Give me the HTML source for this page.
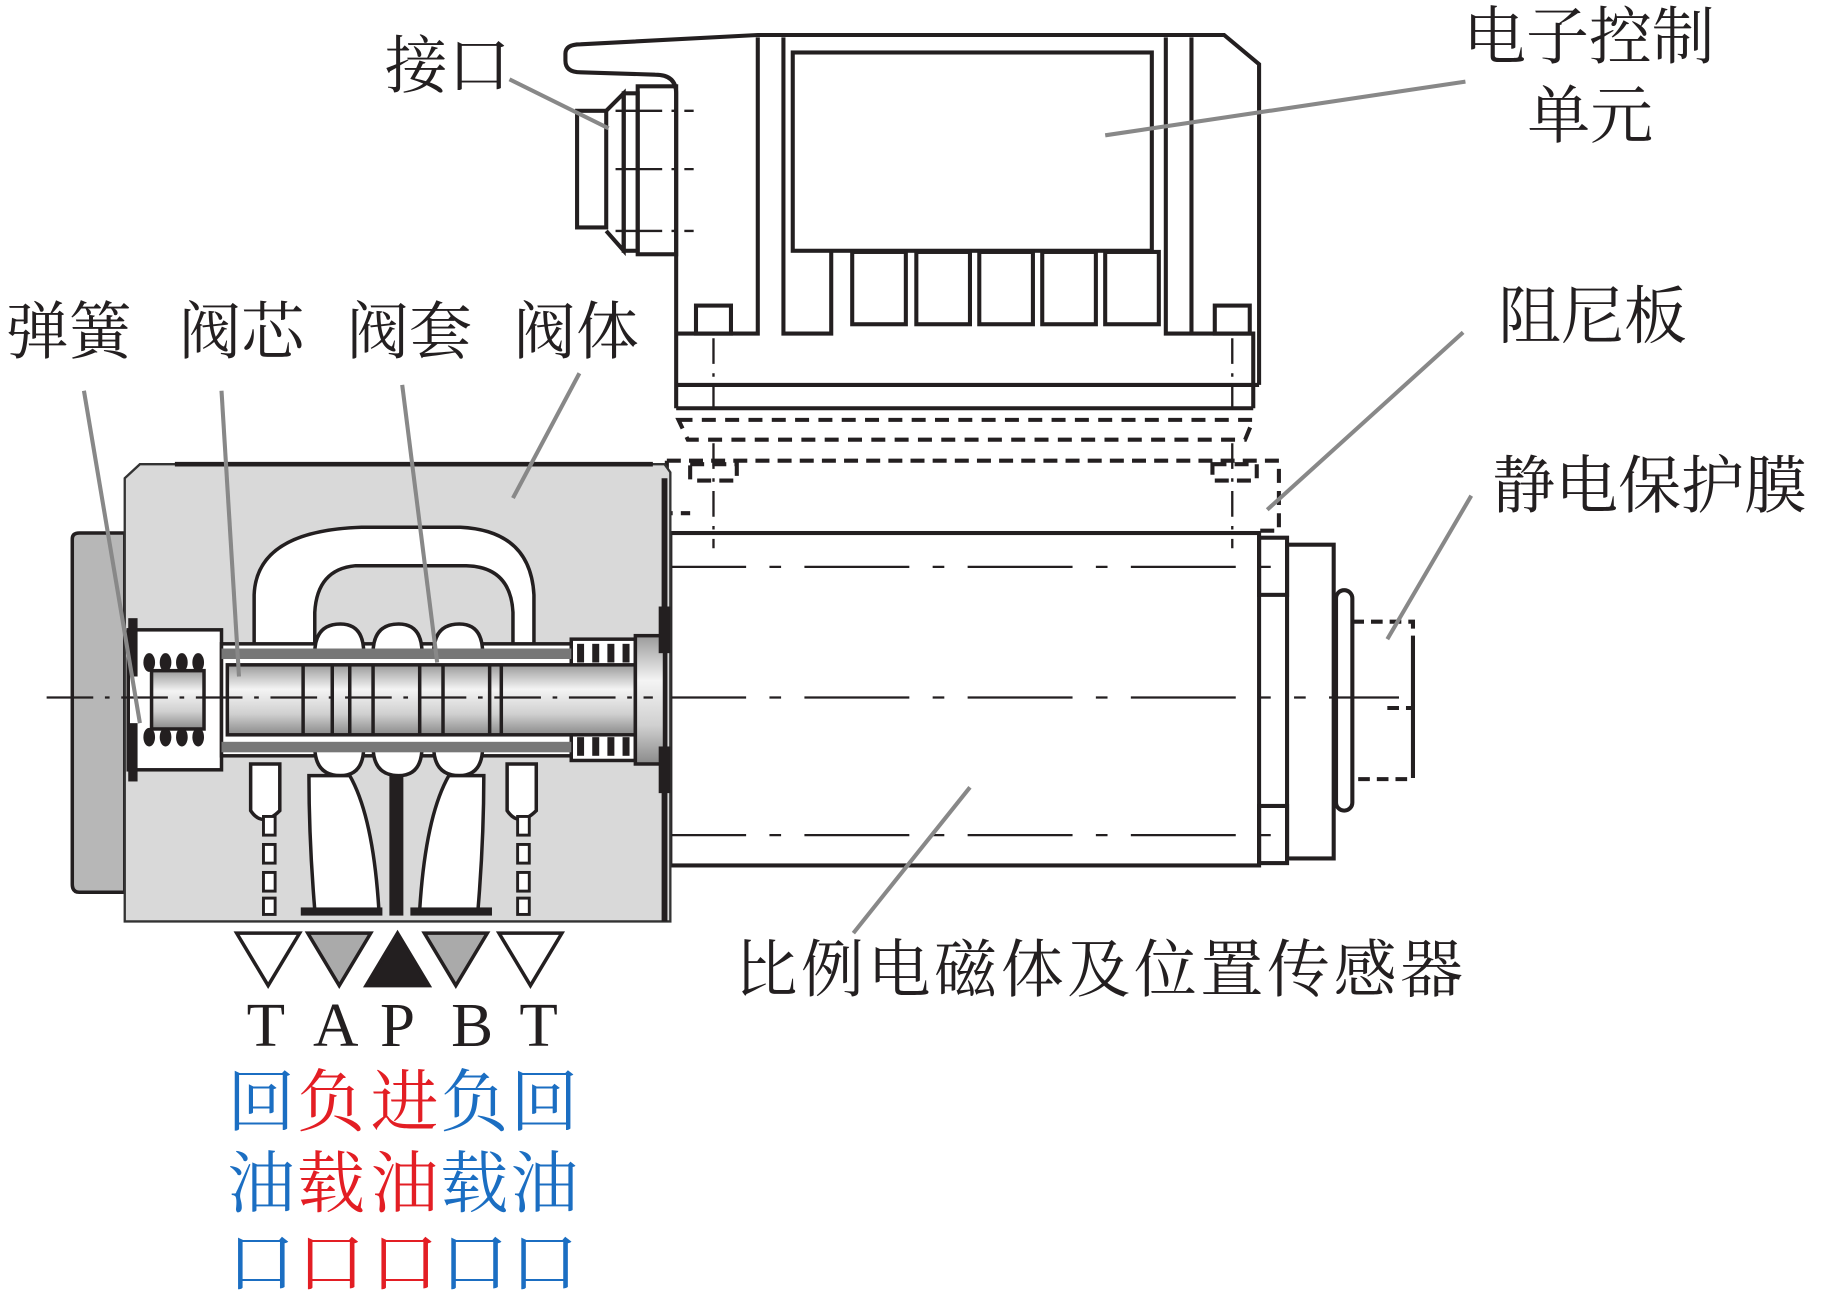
<!DOCTYPE html>
<html><head><meta charset="utf-8"><style>
html,body{margin:0;padding:0;background:#fff}
svg{display:block}
.t{font-family:"Liberation Serif","Noto Serif CJK SC",serif;font-size:54px;fill:#231f20}
</style></head><body>
<svg width="1828" height="1304" viewBox="0 0 1568 1118" preserveAspectRatio="none" xmlns="http://www.w3.org/2000/svg">
<defs>
<linearGradient id="sp" x1="0" y1="0" x2="0" y2="1"><stop offset="0" stop-color="#9a9a9a"/><stop offset="0.35" stop-color="#f4f4f4"/><stop offset="0.7" stop-color="#d0d0d0"/><stop offset="1" stop-color="#8a8a8a"/></linearGradient>
</defs>
<g fill="none" stroke="#231f20" stroke-width="3.5">
<!-- electronic unit -->
<path d="M580,350 V80 Q580,64 562,64 L498,62 Q485,62 485,52 V46 Q485,38 498,38 L650,30 H1050 L1080,55 V330"/>
<path d="M650,32 V286 H580 M672,32 V286 H713 V216 M1000,32 V286 H1022 M1022,32 V286 H1075 V350"/>
<rect x="680" y="45" width="308" height="170"/>
<rect x="731" y="216" width="46" height="62"/><rect x="786" y="216" width="46" height="62"/><rect x="840" y="216" width="46" height="62"/><rect x="894" y="216" width="46" height="62"/><rect x="948" y="216" width="46" height="62"/>
<rect x="597" y="262" width="30" height="24"/><rect x="1042" y="262" width="30" height="24"/>
<path d="M580,330 H1080 M580,350 H1075"/>
<!-- connector -->
<rect x="495" y="95" width="25" height="100"/><path d="M520,95 L535,80 V215 L520,198"/><rect x="535" y="80" width="12" height="135"/><rect x="547" y="74" width="33" height="144"/>
<path d="M528,95 H595 M528,145 H595 M528,198 H595" stroke-width="2" stroke-dasharray="40 8 3 8"/>
<!-- dashed -->
<path d="M582,360 H1075 L1068,377 H590 Z" stroke-dasharray="12 8"/>
<path d="M572,395 H1097 V455 H1080 M572,395 V440 H592 M592,398 H632 V412 H592 Z M1040,398 H1078 V412 H1040 Z" stroke-dasharray="12 7"/>
<path d="M612,380 V470 M1057,380 V470 M612,290 V350 M1057,290 V350" stroke-width="2" stroke-dasharray="22 8 3 8"/>
<!-- solenoid -->
<rect x="575" y="457" width="505" height="285"/>
<path d="M550,486 H1110 M550,716 H1110 M550,598 H1120" stroke-width="2" stroke-dasharray="90 20 10 20"/>
<rect x="1080" y="461" width="24" height="49"/><rect x="1080" y="691" width="24" height="49"/>
<rect x="1104" y="467" width="40" height="269"/>
<rect x="1146" y="506" width="14" height="189" rx="7"/>
<path d="M1160,533 H1212 V668 H1160 M1212,553 V660 M1190,607 H1212" stroke-dasharray="10 6"/>
<path d="M1140,598 H1200" stroke-width="2"/>
</g>
<!-- valve body -->
<path d="M62,462 Q62,457 68,457 H107 V765 H68 Q62,765 62,758 Z" fill="#b7b7b7" stroke="#231f20" stroke-width="3"/>
<path d="M107,410 L120,398 H570 L575,405 V790 H107 Z" fill="#d9d9d9" stroke="#333" stroke-width="2"/>
<path d="M150,398 H560" stroke="#231f20" stroke-width="4"/>
<path d="M570,410 V790" stroke="#231f20" stroke-width="5"/>
<g fill="#fff" stroke="#231f20" stroke-width="3">
<path d="M218,565 V510 Q220,455 310,452 H395 Q455,455 458,510 V565 H440 V525 Q438,486 400,485 H305 Q272,488 270,525 V565 Z"/>
<rect x="110" y="540" width="80" height="120"/>
<rect x="190" y="552" width="300" height="96"/>
<path d="M270,560 Q270,535 292,535 Q312,535 312,560 Z M320,560 Q320,535 342,535 Q362,535 362,560 Z M372,560 Q372,535 394,535 Q414,535 414,560 Z"/>
<path d="M270,640 Q270,665 292,665 Q312,665 312,640 Z M320,640 Q320,665 342,665 Q362,665 362,640 Z M372,640 Q372,665 394,665 Q414,665 414,640 Z"/>
<path d="M215,655 V695 Q225,710 240,695 V655 Z M435,655 V695 Q445,710 460,695 V655 Z"/>
<path d="M265,665 Q265,720 270,780 H325 Q320,700 300,665 Z M415,665 Q415,720 410,780 H360 Q365,700 385,665 Z"/>
<rect x="490" y="548" width="55" height="104"/>
</g>
<g fill="#777"><rect x="190" y="556" width="300" height="9"/><rect x="190" y="636" width="300" height="9"/></g>
<!-- spool -->
<g stroke="#231f20" stroke-width="3">
<rect x="195" y="570" width="350" height="60" fill="url(#sp)"/>
<rect x="130" y="575" width="45" height="50" fill="url(#sp)"/>
<rect x="545" y="545" width="25" height="110" fill="url(#sp)"/>
<path d="M260,570 V630 M285,570 V630 M300,570 V630 M320,570 V630 M360,570 V630 M380,570 V630 M420,570 V630 M430,570 V630" fill="none"/>
</g>
<g fill="#231f20">
<ellipse cx="128" cy="568" rx="5" ry="8"/><ellipse cx="142" cy="568" rx="5" ry="8"/><ellipse cx="156" cy="568" rx="5" ry="8"/><ellipse cx="170" cy="568" rx="5" ry="8"/>
<ellipse cx="128" cy="632" rx="5" ry="8"/><ellipse cx="142" cy="632" rx="5" ry="8"/><ellipse cx="156" cy="632" rx="5" ry="8"/><ellipse cx="170" cy="632" rx="5" ry="8"/>
<rect x="495" y="552" width="6" height="16"/><rect x="508" y="552" width="6" height="16"/><rect x="521" y="552" width="6" height="16"/><rect x="534" y="552" width="6" height="16"/>
<rect x="495" y="632" width="6" height="16"/><rect x="508" y="632" width="6" height="16"/><rect x="521" y="632" width="6" height="16"/><rect x="534" y="632" width="6" height="16"/>
<rect x="334" y="665" width="12" height="120"/>
<rect x="258" y="778" width="70" height="7"/><rect x="352" y="778" width="70" height="7"/>
<rect x="110" y="530" width="8" height="50"/><rect x="110" y="620" width="8" height="50"/>
<rect x="565" y="520" width="10" height="40"/><rect x="565" y="640" width="10" height="40"/>
</g>
<g fill="#fff" stroke="#231f20" stroke-width="2.5"><rect x="226" y="700" width="10" height="16"/><rect x="226" y="724" width="10" height="16"/><rect x="226" y="748" width="10" height="16"/><rect x="226" y="770" width="10" height="14"/><rect x="444" y="700" width="10" height="16"/><rect x="444" y="724" width="10" height="16"/><rect x="444" y="748" width="10" height="16"/><rect x="444" y="770" width="10" height="14"/></g>
<path d="M40,598 H560" stroke="#231f20" stroke-width="2" stroke-dasharray="40 10 4 10"/>
<!-- triangles -->
<g stroke="#231f20" stroke-width="3">
<path d="M203,800 H257 L230,845 Z" fill="#fff"/>
<path d="M264,800 H318 L291,845 Z" fill="#aaa"/>
<path d="M314,845 H368 L341,800 Z" fill="#231f20"/>
<path d="M364,800 H418 L391,845 Z" fill="#aaa"/>
<path d="M428,800 H482 L455,845 Z" fill="#fff"/>
</g>
<text x="228" y="897" class="t" text-anchor="middle">T</text><text x="288" y="897" class="t" text-anchor="middle">A</text><text x="341" y="897" class="t" text-anchor="middle">P</text><text x="405" y="897" class="t" text-anchor="middle">B</text><text x="462" y="897" class="t" text-anchor="middle">T</text>
<g class="t" style="font-size:58px">
<text x="195" y="965" fill="#1b6ec2">回</text><text x="255" y="965" fill="#e31e24">负</text><text x="318" y="965" fill="#e31e24">进</text><text x="378" y="965" fill="#1b6ec2">负</text><text x="438" y="965" fill="#1b6ec2">回</text>
<text x="195" y="1035" fill="#1b6ec2">油</text><text x="255" y="1035" fill="#e31e24">载</text><text x="318" y="1035" fill="#e31e24">油</text><text x="378" y="1035" fill="#1b6ec2">载</text><text x="438" y="1035" fill="#1b6ec2">油</text>
<text x="195" y="1103" fill="#1b6ec2">口</text><text x="255" y="1103" fill="#e31e24">口</text><text x="318" y="1103" fill="#e31e24">口</text><text x="378" y="1103" fill="#1b6ec2">口</text><text x="438" y="1103" fill="#1b6ec2">口</text>
</g>
<!-- labels -->
<g class="t">
<text x="330" y="75">接口</text>
<text x="1255" y="50">电子控制</text>
<text x="1310" y="118">单元</text>
<text x="5" y="303">弹簧</text><text x="153" y="303">阀芯</text><text x="297" y="303">阀套</text><text x="440" y="303">阀体</text>
<text x="1285" y="290">阻尼板</text>
<text x="1280" y="435">静电保护膜</text>
<text x="630" y="850" textLength="625">比例电磁体及位置传感器</text>
</g>
<g stroke="#888" stroke-width="3.5">
<path d="M437,68 L522,110"/><path d="M1257,70 L948,116"/>
<path d="M72,335 L120,620"/><path d="M190,335 L205,580"/><path d="M345,330 L375,568"/><path d="M497,320 L440,427"/>
<path d="M1255,285 L1087,437"/><path d="M1262,425 L1190,548"/><path d="M832,675 L732,800"/>
</g>
</svg>
</body></html>
